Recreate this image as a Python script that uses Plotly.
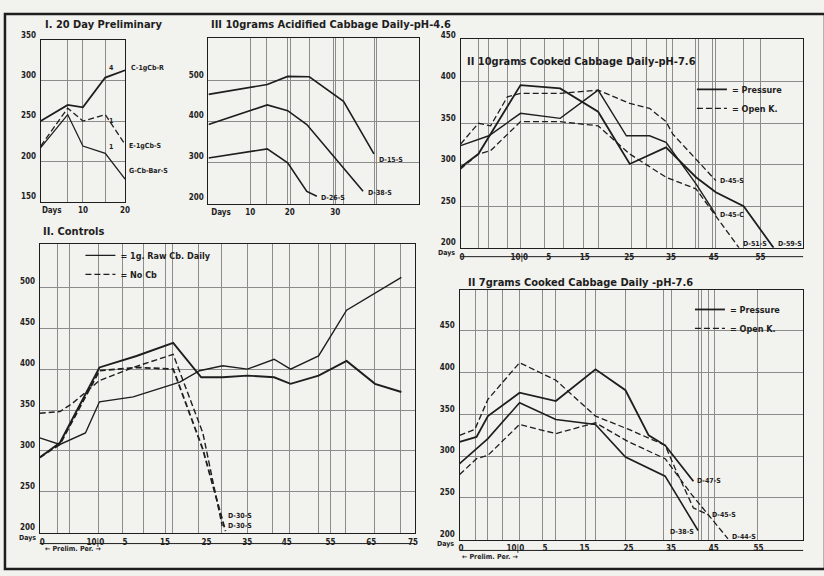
import plotly.graph_objects as go

W, H = 824, 576
FONT = "DejaVu Sans Condensed, Liberation Sans Narrow, sans-serif"
INK = "#1e1e1e"
GRID = "#8c8c8c"
BG = "#f2f2ef"
DASH = "6px,3px"

# ---------------- Panel I : 20 Day Preliminary ----------------
p1_days = [0, 6.4, 10, 15.3, 20]
p1_C = [250, 270, 267, 304, 313]
p1_E = [219, 266, 250, 258, 221]
p1_G = [217, 258, 219, 210, 178]
p1_grid_x = [6.4, 10, 15.3]
p1_tickvals = [2.6, 10, 20]
p1_ticktext = ["Days", "10", "20"]
p1_yticks = [150, 200, 250, 300, 350]

# ---------------- Panel III : 10 grams acidified cabbage ----------------
p3_days_a = [0, 14.1, 19, 24.2, 32.4, 39.7]
p3_a = [466, 490, 510, 509, 449, 320]
p3_days_b = [0, 14.1, 19, 23.6, 37.1]
p3_b = [392, 440, 426, 392, 228]
p3_days_c = [0, 14.1, 19, 23.6, 26]
p3_c = [310, 332, 298, 228, 216]
p3_grid_x = [10, 14.0, 19.0, 19.8, 24.3, 30, 30.5, 32.4, 39.8, 40.2]
p3_tickvals = [3, 10, 19.5, 30.4]
p3_ticktext = ["Days", "10", "20", "30"]
p3_yticks = [200, 300, 400, 500]

# ---------------- Panel II (top) : 10 grams cooked cabbage ----------------
p2a_s1_x = [0, 4.2, 14.2, 23.6, 32.6, 40.1, 48.7, 55.8, 60.5, 67.1, 74.2]
p2a_s1 = [297, 313, 396, 392, 364, 301, 321, 285, 267, 250, 200]
p2a_s2_x = [0, 6.7, 14.2, 23.6, 32.6, 39.3, 44.8, 48.7, 55.8, 60.5]
p2a_s2 = [323, 335, 362, 356, 390, 335, 335, 327, 277, 240]
p2a_d1_x = [0, 4.2, 7.1, 11.1, 14.2, 23.6, 32.6, 40.1, 44.8, 48.7, 50.3, 60.5]
p2a_d1 = [325, 350, 347, 382, 386, 386, 390, 374, 368, 352, 337, 281]
p2a_d2_x = [0, 4.2, 7.1, 14.2, 23.6, 32.6, 40.1, 48.7, 55.8, 66]
p2a_d2 = [295, 313, 317, 352, 352, 347, 313, 285, 271, 200]
p2a_grid_x = [4.2, 6.7, 11.1, 14.2, 20, 24.4, 29.1, 32.6, 40.5, 44, 48.7, 50.3,
              55.6, 56.4, 59.7, 60.5, 67.1, 71]
p2a_tickvals = [0.3, 13.9, 20.9, 29.4, 40, 49.9, 60, 71.1]
p2a_yticks = [200, 250, 300, 350, 400, 450]

# ---------------- Panel II : Controls ----------------
c_r1_x = [0, 4.9, 11.1, 14.5, 22.7, 34.0, 38.8, 44.4, 50.4, 56.9, 60.9, 67.7, 74.5, 87.8]
c_r1 = [316, 308, 322, 360, 366, 384, 398, 404, 400, 412, 400, 416, 472, 512]
c_r2_x = [0, 4.9, 14.5, 23.5, 32.4, 39.2, 44.4, 50.4, 56.9, 60.9, 67.7, 74.5, 81.4, 87.8]
c_r2 = [292, 310, 402, 416, 432, 390, 390, 392, 390, 382, 392, 410, 382, 372]
c_n1_x = [0, 4.9, 7.9, 14.5, 22.7, 32.4, 39.6, 44.3]
c_n1 = [346, 348, 358, 386, 402, 418, 322, 208]
c_n2_x = [0, 4.9, 14.5, 23.5, 32.4, 39.6, 45.1]
c_n2 = [292, 308, 398, 402, 400, 302, 202]
c_grid_x = [4.3, 7.2, 14.2, 20.2, 25.1, 30.6, 32.3, 38.6, 44.1, 50.4, 56.6, 60.7,
            67.7, 70.6, 74.2, 81.2, 87.7]
c_tickvals = [0.6, 13.5, 20.7, 30.4, 40.5, 50.4, 60, 70.6, 80.5, 90.6]
c_ticktext = ["0", "10|0", "5", "15", "25", "35", "45", "55", "65", "75"]
c_yticks = [200, 250, 300, 350, 400, 450, 500]

# ---------------- Panel II (bottom) : 7 grams cooked cabbage ----------------
p2b_s1_x = [0, 4.0, 6.7, 14.2, 22.8, 32.2, 39.3, 44.8, 48.7, 55.4]
p2b_s1 = [317, 323, 348, 376, 366, 404, 379, 325, 313, 270]
p2b_s2_x = [0, 6.7, 14.2, 22.8, 32.2, 39.3, 48.7, 56.5]
p2b_s2 = [291, 321, 364, 344, 338, 299, 276, 211]
p2b_d1_x = [0, 3.6, 6.7, 14.2, 22.8, 32.2, 40.1, 48.7, 51.1, 55.4, 58.9]
p2b_d1 = [325, 332, 368, 412, 391, 348, 332, 313, 285, 238, 230]
p2b_d2_x = [0, 4.0, 6.7, 14.2, 22.8, 32.2, 40.1, 48.7, 55.0, 63.6]
p2b_d2 = [278, 297, 301, 338, 327, 340, 317, 297, 254, 201]
p2b_grid_x = [3.8, 6.6, 10.1, 14.2, 19.7, 22.8, 29.9, 32.2, 39.3, 48.3, 50.3,
              56.5, 57.3, 58.9, 60.5, 70.7]
p2b_tickvals = [0.3, 13.2, 20.2, 29.6, 40, 50.1, 60.2, 70.8]
p2_ticktext = ["0", "10|0", "5", "15", "25", "35", "45", "55"]
p2b_yticks = [200, 250, 300, 350, 400, 450]


def px_x(p):
    return p / W


def px_y(p):
    return 1 - p / H


fig = go.Figure()


def line(x, y, ax, dash="solid", width=1.6, name=None, legend=None, show=False):
    fig.add_trace(go.Scatter(
        x=x, y=y, mode="lines", xaxis="x" + ax, yaxis="y" + ax,
        line=dict(color=INK, width=width, dash=dash),
        name=name, showlegend=show, legend=legend, hoverinfo="skip"))


# Panel I
line(p1_days, p1_C, "", width=1.8)
line(p1_days, p1_E, "", dash=DASH, width=1.3)
line(p1_days, p1_G, "", width=1.3)
# Panel III
line(p3_days_a, p3_a, "2", width=1.6)
line(p3_days_b, p3_b, "2", width=1.6)
line(p3_days_c, p3_c, "2", width=1.6)
# Panel II top
line(p2a_s1_x, p2a_s1, "3", width=1.8, name="= Pressure", legend="legend2", show=True)
line(p2a_s2_x, p2a_s2, "3", width=1.4)
line(p2a_d1_x, p2a_d1, "3", dash=DASH, width=1.3, name="= Open K.", legend="legend2", show=True)
line(p2a_d2_x, p2a_d2, "3", dash=DASH, width=1.3)
# Controls
line(c_r1_x, c_r1, "4", width=1.4, name="= 1g. Raw Cb. Daily", legend="legend", show=True)
line(c_r2_x, c_r2, "4", width=1.9)
line(c_n1_x, c_n1, "4", dash=DASH, width=1.4, name="= No Cb", legend="legend", show=True)
line(c_n2_x, c_n2, "4", dash=DASH, width=1.8)
# Panel II bottom
line(p2b_s1_x, p2b_s1, "5", width=1.8, name="= Pressure", legend="legend3", show=True)
line(p2b_s2_x, p2b_s2, "5", width=1.6)
line(p2b_d1_x, p2b_d1, "5", dash=DASH, width=1.3, name="= Open K.", legend="legend3", show=True)
line(p2b_d2_x, p2b_d2, "5", dash=DASH, width=1.3)

tickfont = dict(family=FONT, size=8, color=INK, weight="bold")


def xaxis(dom, rng, grid, tv, tt, anchor):
    return dict(domain=dom, range=rng, anchor=anchor, showline=True, mirror=True,
                linecolor=INK, linewidth=1.4, showgrid=False, zeroline=False,
                tickmode="array", tickvals=tv, ticktext=tt, ticks="",
                tickfont=tickfont, ticklabelstandoff=1,
                minor=dict(tickmode="array", tickvals=grid, showgrid=True,
                           gridcolor=GRID, gridwidth=1, ticks=""))


def yaxis(dom, rng, tv, anchor):
    return dict(domain=dom, range=rng, anchor=anchor, showline=True, mirror=True,
                linecolor=INK, linewidth=1.4, showgrid=True, gridcolor=GRID,
                gridwidth=1, zeroline=False, tickmode="array", tickvals=tv,
                ticktext=[str(v) for v in tv], ticks="", tickfont=tickfont,
                ticklabelposition="outside top", ticklabelstandoff=2)


layout = dict(
    width=W, height=H, margin=dict(l=0, r=0, t=0, b=0),
    paper_bgcolor=BG, plot_bgcolor=BG,
    xaxis=xaxis([px_x(40), px_x(125)], [0, 20], p1_grid_x, p1_tickvals, p1_ticktext, "y"),
    yaxis=yaxis([px_y(195), px_y(31)], [150, 350], p1_yticks, "x"),
    xaxis2=xaxis([px_x(209), px_x(421)], [0, 50.5], p3_grid_x, p3_tickvals, p3_ticktext, "y2"),
    yaxis2=yaxis([px_y(197), px_y(29)], [198, 603], p3_yticks, "x2"),
    xaxis3=xaxis([px_x(463), px_x(808)], [0, 81.2], p2a_grid_x, p2a_tickvals, p2_ticktext, "y3"),
    yaxis3=yaxis([px_y(242), px_y(30)], [200, 451], p2a_yticks, "x3"),
    xaxis4=xaxis([px_x(39), px_x(417)], [0, 91.1], c_grid_x, c_tickvals, c_ticktext, "y4"),
    yaxis4=yaxis([px_y(532), px_y(238)], [200, 553], c_yticks, "x4"),
    xaxis5=xaxis([px_x(462), px_x(808)], [0, 81.4], p2b_grid_x, p2b_tickvals, p2_ticktext, "y5"),
    yaxis5=yaxis([px_y(539), px_y(285)], [200, 499], p2b_yticks, "x5"),
)

legfont = dict(family=FONT, size=9, color=INK, weight="bold")
leg_common = dict(bgcolor="rgba(0,0,0,0)", font=legfont, xanchor="left", yanchor="top",
                  tracegroupgap=0, itemwidth=30)
layout["legend"] = dict(x=px_x(80), y=px_y(235), **leg_common)
layout["legend2"] = dict(x=px_x(696), y=px_y(66), **leg_common)
layout["legend3"] = dict(x=px_x(694), y=px_y(290), **leg_common)

fig.update_layout(**layout)

# Titles
titles = [
    ("I. 20 Day Preliminary", 42, 15),
    ("III 10grams Acidified Cabbage Daily-pH-4.6", 210, 15),
    ("II 10grams Cooked Cabbage Daily-pH-7.6", 467, 52),
    ("II. Controls", 40, 225),
    ("II 7grams Cooked Cabbage Daily -pH-7.6", 468, 277),
]
for txt, x, y in titles:
    fig.add_annotation(text=txt, x=px_x(x), y=px_y(y), xref="paper", yref="paper",
                       xanchor="left", yanchor="middle", showarrow=False,
                       font=dict(family=FONT, size=11, color=INK, weight="bold"))

small = dict(family=FONT, size=7, color=INK, weight="bold")


def end_label(txt, xs, ys, ax, xanchor="left", xs_=3, ys_=0, idx=-1):
    fig.add_annotation(text=txt, x=xs[idx], y=ys[idx], xref="x" + ax, yref="y" + ax,
                       xanchor=xanchor, yanchor="middle", showarrow=False,
                       xshift=xs_, yshift=ys_, font=small)


# Panel I labels (outside box to the right)
end_label("C-1gCb-R", p1_days, p1_C, "", xs_=4, ys_=2)
end_label("E-1gCb-S", p1_days, p1_E, "", xs_=2, ys_=-2)
end_label("G-Cb-Bar-S", p1_days, p1_G, "", xs_=2, ys_=8)
end_label("4", p1_days, p1_C, "", idx=3, xs_=2, ys_=10)
end_label("1", p1_days, p1_E, "", idx=3, xs_=2, ys_=-6)
end_label("1", p1_days, p1_G, "", idx=3, xs_=2, ys_=6)
# Panel III
end_label("D-15-S", p3_days_a, p3_a, "2", xs_=3, ys_=-6)
end_label("D-38-S", p3_days_b, p3_b, "2", xs_=3, ys_=-2)
end_label("D-26-S", p3_days_c, p3_c, "2", xs_=2, ys_=-2)
# Panel II top
end_label("D-45-S", p2a_d1_x, p2a_d1, "3", xs_=2)
end_label("D-45-C", p2a_s2_x, p2a_s2, "3", xs_=2)
end_label("D-51-S", p2a_d2_x, p2a_d2, "3", xs_=2, ys_=4)
end_label("D-59-S", p2a_s1_x, p2a_s1, "3", xs_=2, ys_=4)
# Controls
end_label("D-30-S", c_n1_x, c_n1, "4", xs_=4, ys_=10)
end_label("D-30-S", c_n2_x, c_n2, "4", xs_=1, ys_=5)
# Panel II bottom
end_label("D-47-S", p2b_s1_x, p2b_s1, "5", xs_=2)
end_label("D-45-S", p2b_d1_x, p2b_d1, "5", xs_=2)
end_label("D-44-S", p2b_d2_x, p2b_d2, "5", xs_=2, ys_=2)
end_label("D-38-S", p2b_s2_x, p2b_s2, "5", xanchor="right", xs_=-2, ys_=-2)

# "Days" and prelim-period captions
for txt, x, y in [("Days", 37, 537), ("Days", 459, 247), ("Days", 458, 543)]:
    fig.add_annotation(text=txt, x=px_x(x), y=px_y(y), xref="paper", yref="paper",
                       xanchor="right", yanchor="middle", showarrow=False, font=small)
for x, y in [(42, 549), (462, 557)]:
    fig.add_annotation(text="\u2190 Prelim. Per. \u2192", x=px_x(x), y=px_y(y),
                       xref="paper", yref="paper", xanchor="left", yanchor="middle",
                       showarrow=False, font=small)

# Label bands under the lower axes and outer frame
shapes = []
for x0, x1, y in [(39, 417, 543), (463, 808, 251), (462, 808, 550)]:
    shapes.append(dict(type="line", xref="paper", yref="paper", x0=px_x(x0), x1=px_x(x1),
                       y0=px_y(y), y1=px_y(y), line=dict(color=INK, width=1)))
shapes.append(dict(type="rect", xref="paper", yref="paper", x0=px_x(4), x1=px_x(830),
                   y0=px_y(569), y1=px_y(4), line=dict(color=INK, width=2.5)))
fig.update_layout(shapes=shapes)

fig.write_html(
    "out.html",
    config={"displayModeBar": False},
    post_script="document.body.style.margin='0';document.body.style.overflow='hidden';",
)
